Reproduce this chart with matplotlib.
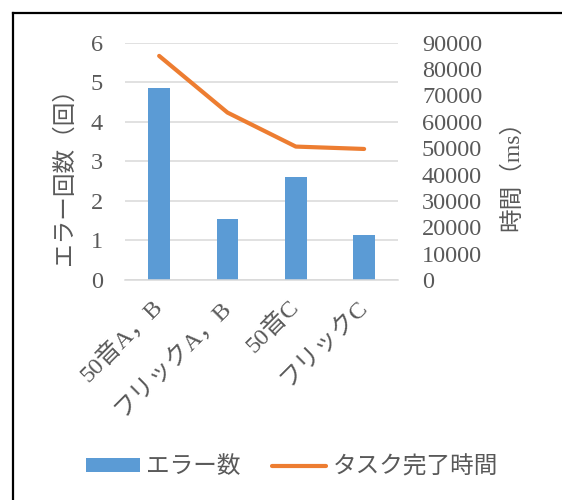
import matplotlib
matplotlib.use("Agg")
import matplotlib.pyplot as plt
from matplotlib.lines import Line2D
from matplotlib.patches import Patch
import numpy as np

# Data
categories = ["50音A，B", "フリックA，B", "50音C", "フリックC"]
error_counts = [4.85, 1.55, 2.6, 1.15]
completion_ms = [85000, 63500, 50600, 49700]
left_ticks = [0, 1, 2, 3, 4, 5, 6]
right_ticks = [0, 10000, 20000, 30000, 40000, 50000, 60000, 70000, 80000, 90000]

plt.rcParams["font.family"] = ["Liberation Serif", "Noto Sans CJK JP"]

TEXT = "#595959"
BLUE = "#5B9BD5"
ORANGE = "#ED7D31"
GRID = "#D9D9D9"
FS = 17

fig = plt.figure(figsize=(5.62, 5.0), dpi=100)
ax = fig.add_axes([0.2224, 0.44, 0.4863, 0.4746])

x = np.arange(len(categories))
ax.bar(x, error_counts, width=0.32, color=BLUE, zorder=2)
ax.set_xlim(-0.5, len(categories) - 0.5)
ax.set_ylim(0, 6)
ax.set_yticks(left_ticks)
ax.yaxis.grid(True, color=GRID, lw=1.1)
ax.set_axisbelow(True)
for name, sp in ax.spines.items():
    sp.set_visible(name == "bottom")
ax.spines["bottom"].set_color(GRID)
ax.spines["bottom"].set_linewidth(1.1)
ax.tick_params(axis="y", length=0, pad=16, labelsize=17.5, labelcolor=TEXT)
ax.set_xticks(x)
ax.set_xticklabels(categories, rotation=45, ha="right", va="center",
                   rotation_mode="anchor")
ax.tick_params(axis="x", length=0, pad=17, labelsize=17.5, labelcolor=TEXT)

ax2 = ax.twinx()
ax2.plot(x, completion_ms, color=ORANGE, lw=3, solid_capstyle="round",
         solid_joinstyle="round", zorder=3)
ax2.set_ylim(0, 90000)
ax2.set_yticks(right_ticks)
for sp in ax2.spines.values():
    sp.set_visible(False)
ax2.tick_params(axis="y", length=0, pad=17, labelsize=17.5, labelcolor=TEXT)
for lbl in ax2.get_yticklabels():
    lbl.set_horizontalalignment("left")

# Axis titles
fig.text(64.5 / 562, 1 - 170 / 500, "エラー回数（回）", rotation=90, ha="center",
         va="center", fontsize=FS, color=TEXT)
fig.text(512 / 562, 1 - 170 / 500, "時間（ms）", rotation=90, ha="center",
         va="center", fontsize=FS, color=TEXT)

# Legend
handles = [Patch(facecolor=BLUE, edgecolor="none"),
           Line2D([], [], color=ORANGE, lw=3, solid_capstyle="round")]
fig.legend(handles, ["エラー数", "タスク完了時間"], loc="center",
           bbox_to_anchor=(0.519, 0.066), ncol=2, frameon=False, fontsize=FS,
           labelcolor=TEXT, handlelength=2.3, handleheight=0.5,
           handletextpad=0.25, columnspacing=1.35)

# Chart frame (top and left edges)
fig.add_artist(Line2D([13 / 562, 13 / 562], [0, 1 - 13 / 500],
                      transform=fig.transFigure, color="black", lw=1.6,
                      solid_capstyle="projecting"))
fig.add_artist(Line2D([13 / 562, 1], [1 - 13 / 500, 1 - 13 / 500],
                      transform=fig.transFigure, color="black", lw=1.6,
                      solid_capstyle="projecting"))

fig.savefig("out.png", dpi=100, facecolor="white")
